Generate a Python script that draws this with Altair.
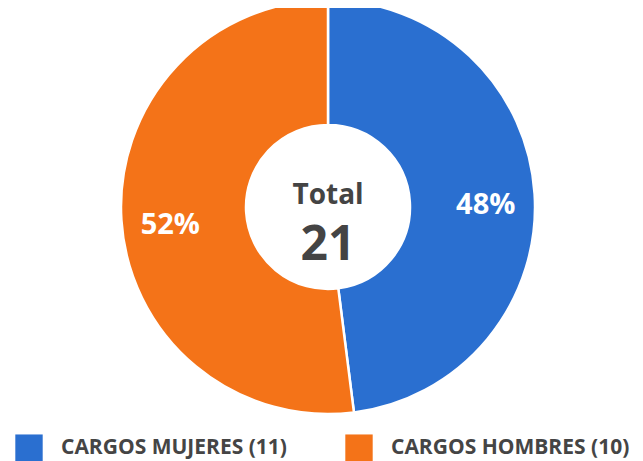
import altair as alt
import pandas as pd

categories = ["CARGOS MUJERES (11)", "CARGOS HOMBRES (10)"]
shares = [48, 52]
labels = ["48%", "52%"]
colors = ["#2A6FD0", "#F47318"]
center_title = "Total"
center_value = "21"

df = pd.DataFrame({"cat": categories, "share": shares, "label": labels, "order": [0, 1]})

color_scale = alt.Scale(domain=categories, range=colors)
FONT = "Open Sans"

base = alt.Chart(df).encode(
    theta=alt.Theta("share:Q", stack=True),
    order=alt.Order("order:Q"),
)

arc = base.mark_arc(
    outerRadius=207, innerRadius=82, stroke="white", strokeWidth=2.5,
    x=320, y=199,
).encode(
    color=alt.Color(
        "cat:N", scale=color_scale, sort=categories,
        legend=alt.Legend(
            title=None, orient="none", legendX=7, legendY=426, padding=0,
            direction="horizontal", symbolType="square", symbolSize=750,
            symbolStrokeWidth=0, labelFontSize=21, labelFont=FONT,
            labelFontWeight=700, labelColor="#454545", columnPadding=58,
            labelOffset=18, labelLimit=400, symbolOpacity=1,
        ),
    )
)

pct = base.mark_text(
    font=FONT, fontSize=29, fontWeight=700, color="white",
    x=320, y=207, radius=158,
).encode(text="label:N")

center = pd.DataFrame({"t": [center_title, center_value]})
t1 = alt.Chart(center.iloc[[0]]).mark_text(
    font=FONT, fontSize=28, fontWeight=700, color="#444444", x=320, y=196,
    baseline="alphabetic",
).encode(text="t:N")
t2 = alt.Chart(center.iloc[[1]]).mark_text(
    font=FONT, fontSize=48, fontWeight=700, color="#444444", x=320, y=214,
    baseline="top",
).encode(text="t:N")

chart = alt.layer(arc, pct, t1, t2).properties(
    width=627, height=453, autosize=alt.AutoSizeParams(type="none"), padding=0
).configure_view(stroke=None).configure(background="white")

chart.save("out.html", embed_options={"renderer": "svg", "actions": False})
